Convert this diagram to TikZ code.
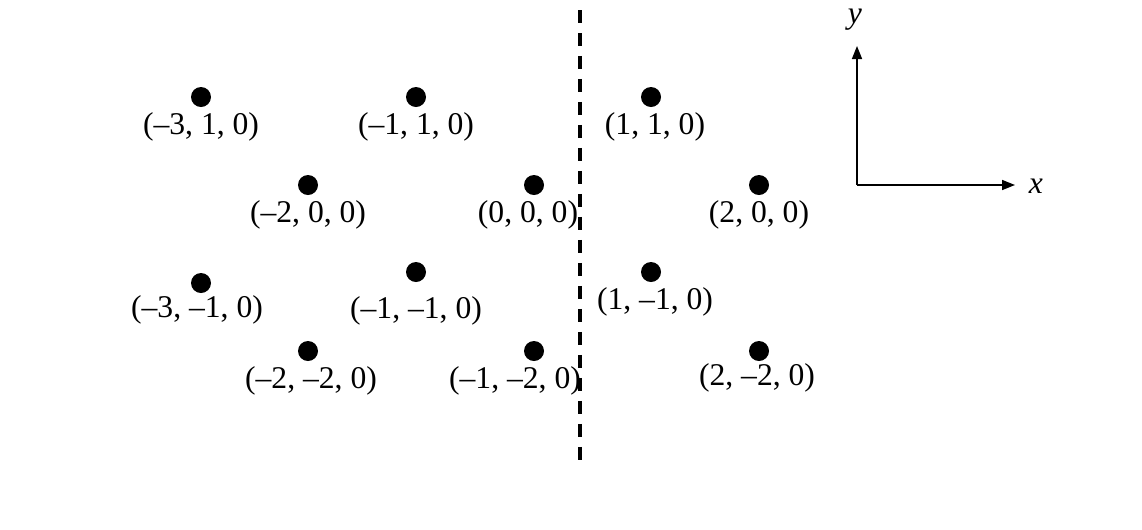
\documentclass[tikz,border=0pt]{standalone}
\usepackage{fontspec}
\setmainfont{Liberation Serif}
\usetikzlibrary{arrows.meta, positioning}
\tikzset{
  pt/.style={circle, fill=black, inner sep=0pt, minimum size=0.4cm},
  lbl/.style={inner sep=0pt, font=\fontsize{18}{21}\selectfont},
  axis/.style={-{Triangle[length=0.26cm, width=0.2cm]}, line width=0.9pt},
  cut/.style={line width=0.08cm, dash pattern=on 0.26cm off 0.2cm},
}
\begin{document}
\begin{tikzpicture}[x=0.02cm, y=-0.02cm, node distance=0.1cm]
\useasboundingbox (0,0) rectangle (1142,529);
% lattice points
\node (p31)  [pt] at (201,97)  {};
\node (p11)  [pt] at (416,97)  {};
\node (q11)  [pt] at (651,97)  {};
\node (p20)  [pt] at (308,185) {};
\node (p00)  [pt] at (534,185) {};
\node (q20)  [pt] at (759,185) {};
\node (p3m)  [pt] at (201,283) {};
\node (p1m)  [pt] at (416,272) {};
\node (q1m)  [pt] at (651,272) {};
\node (p22)  [pt] at (308,351) {};
\node (p12)  [pt] at (534,351) {};
\node (q22)  [pt] at (759,351) {};
% coordinates
\node (l31) [lbl, below=of p31] {(–3, 1, 0)};
\node (l11) [lbl, below=of p11] {(–1, 1, 0)};
\node (m11) [lbl, below=of q11, xshift=0.08cm] {(1, 1, 0)};
\node (l20) [lbl, below=of p20] {(–2, 0, 0)};
\node (l00) [lbl, below=of p00, xshift=-0.12cm] {(0, 0, 0)};
\node (m20) [lbl, below=of q20] {(2, 0, 0)};
\node (l3m) [lbl, below=0.04cm of p3m, xshift=-0.08cm] {(–3, –1, 0)};
\node (l1m) [lbl, below=0.28cm of p1m] {(–1, –1, 0)};
\node (m1m) [lbl, below=of q1m, xshift=0.08cm] {(1, –1, 0)};
\node (l22) [lbl, below=of p22, xshift=0.06cm] {(–2, –2, 0)};
\node (l12) [lbl, below=of p12, xshift=-0.38cm] {(–1, –2, 0)};
\node (m22) [lbl, below=0.04cm of q22, xshift=-0.04cm] {(2, –2, 0)};
% dividing line
\coordinate (top) at (580,10);
\coordinate (bot) at (580,462);
\draw[cut] (top) -- (bot);
% axes
\coordinate (o) at (857,185);
\coordinate (ye) at (857,46);
\coordinate (xe) at (1015,185);
\draw[axis] (o) -- (ye);
\draw[axis] (o) -- (xe);
\node (ylab) [lbl] at (855,20) {\textit{y}};
\node (xlab) [lbl] at (1036,186) {\textit{x}};
\end{tikzpicture}
\end{document}
